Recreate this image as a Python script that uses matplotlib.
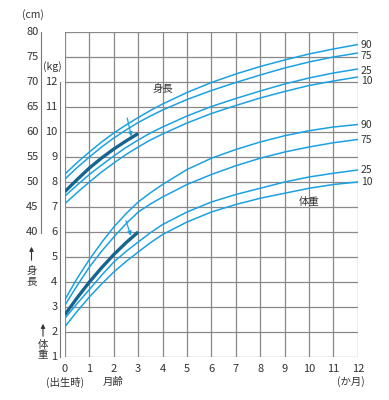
import matplotlib
matplotlib.use("Agg")
import matplotlib.pyplot as plt
import matplotlib.transforms as mtransforms
from matplotlib.patches import FancyArrowPatch

plt.rcParams['font.family'] = ['Noto Sans CJK JP', 'DejaVu Sans']

months = [0, 0.5, 1, 1.5, 2, 2.5, 3, 3.5, 4, 5, 6, 7, 8, 9, 10, 11, 12]
months_early = [0, 0.5, 1, 1.5, 2, 2.5, 3]
month_ticks = list(range(13))

# length (cm)
len_p90 = [51.6, 53.9, 56.0, 58.0, 59.8, 61.4, 62.9, 64.3, 65.6, 67.9, 69.9, 71.6, 73.1, 74.4, 75.6, 76.6, 77.5]
len_p75 = [50.6, 52.9, 55.0, 57.0, 58.8, 60.4, 61.9, 63.2, 64.4, 66.5, 68.3, 69.9, 71.4, 72.8, 74.0, 75.0, 75.8]
len_p50 = [48.1, 50.5, 52.8, 54.8, 56.6, 58.2, 59.7]
len_p25 = [47.2, 49.4, 51.5, 53.4, 55.2, 56.9, 58.4, 59.8, 61.0, 63.2, 65.1, 66.7, 68.2, 69.6, 70.8, 71.8, 72.6]
len_p10 = [45.7, 47.9, 50.0, 52.0, 53.8, 55.5, 57.0, 58.4, 59.6, 61.8, 63.7, 65.3, 66.8, 68.1, 69.3, 70.2, 71.0]

# weight (kg)
wt_p90 = [3.30, 4.15, 4.90, 5.58, 6.20, 6.73, 7.20, 7.57, 7.90, 8.50, 8.95, 9.30, 9.60, 9.85, 10.05, 10.20, 10.30]
wt_p75 = [3.08, 3.86, 4.60, 5.23, 5.80, 6.33, 6.80, 7.12, 7.40, 7.90, 8.30, 8.65, 8.95, 9.20, 9.40, 9.57, 9.70]
wt_p50 = [2.70, 3.37, 4.00, 4.57, 5.10, 5.57, 6.00]
wt_p25 = [2.55, 3.14, 3.70, 4.27, 4.80, 5.22, 5.60, 5.97, 6.30, 6.80, 7.20, 7.50, 7.75, 8.00, 8.20, 8.35, 8.48]
wt_p10 = [2.22, 2.83, 3.40, 3.92, 4.40, 4.82, 5.20, 5.57, 5.90, 6.40, 6.80, 7.10, 7.35, 7.55, 7.75, 7.90, 8.00]

cm_ticks = [40, 45, 50, 55, 60, 65, 70, 75, 80]
kg_ticks = [1, 2, 3, 4, 5, 6, 7, 8, 9, 10, 11, 12]
pct_labels = ["90", "75", "25", "10"]
len_label_y = [77.4, 75.2, 72.2, 70.2]
wt_label_y = [10.28, 9.68, 8.48, 8.0]

light = "#1ba1e2"
dark = "#15668f"
grid_c = "#888888"
txt_c = "#333333"

fig = plt.figure(figsize=(3.89, 4.0), dpi=100)
ax = fig.add_axes([65 / 389, 1 - 357 / 400, 292.8 / 389, 325 / 400])
ax.set_xlim(0, 12)
ax.set_ylim(1, 14)          # kg scale
ax2 = ax.twinx()
ax2.set_ylim(15, 80)        # cm scale, same positions

for a in (ax, ax2):
    for s in a.spines.values():
        s.set_visible(False)
    a.tick_params(left=False, right=False, bottom=False, top=False,
                  labelleft=False, labelright=False, labelbottom=False)

for m in month_ticks:
    ax.axvline(m, color=grid_c, lw=0.9, zorder=1)
for k in range(1, 15):
    ax.axhline(k, color=grid_c, lw=0.9, zorder=1)

for series in (len_p90, len_p75, len_p25, len_p10):
    ax2.plot(months, series, color=light, lw=1.1, zorder=3)
ax2.plot(months_early, len_p50, color=dark, lw=2.4, zorder=4, solid_capstyle='butt')

for series in (wt_p90, wt_p75, wt_p25, wt_p10):
    ax.plot(months, series, color=light, lw=1.1, zorder=3)
ax.plot(months_early, wt_p50, color=dark, lw=2.4, zorder=4, solid_capstyle='butt')

# arrows pointing to the 50th percentile
ax2.annotate("", xy=(2.72, 59.1), xytext=(2.55, 62.8),
             arrowprops=dict(arrowstyle="-|>", color=light, lw=0.9,
                             mutation_scale=6, shrinkA=0, shrinkB=0), zorder=5)
ax.annotate("", xy=(2.7, 5.85), xytext=(2.5, 6.45),
            arrowprops=dict(arrowstyle="-|>", color=light, lw=0.9,
                            mutation_scale=6, shrinkA=0, shrinkB=0), zorder=5)

# percentile labels at right
for lab, yv in zip(pct_labels, len_label_y):
    ax2.text(12.12, yv, lab, fontsize=7.5, color=txt_c,
             va='center', ha='left', clip_on=False)
for lab, yv in zip(pct_labels, wt_label_y):
    ax.text(12.12, yv, lab, fontsize=7.5, color=txt_c,
            va='center', ha='left', clip_on=False)

ax2.text(4.0, 68.6, "身長", fontsize=7.5, color=txt_c, ha='center', va='center')
ax.text(10.0, 7.2, "体重", fontsize=7.5, color=txt_c, ha='center', va='center')

# left scales
tr_cm = mtransforms.blended_transform_factory(ax2.transAxes, ax2.transData)
tr_kg = mtransforms.blended_transform_factory(ax.transAxes, ax.transData)
x_cm_lab = (38.5 - 65) / 292.8
x_cm_line = (41 - 65) / 292.8
x_kg_lab = (57.5 - 65) / 292.8
x_kg_line = (60 - 65) / 292.8

for v in cm_ticks:
    ax2.text(x_cm_lab, v, str(v), transform=tr_cm, fontsize=8, color=txt_c,
             ha='right', va='center', clip_on=False)
ax2.plot([x_cm_line, x_cm_line], [39.8, 80], transform=tr_cm, color="#777777",
         lw=0.8, clip_on=False)
for v in kg_ticks:
    ax.text(x_kg_lab, v, str(v), transform=tr_kg, fontsize=8, color=txt_c,
            ha='right', va='center', clip_on=False)
ax.plot([x_kg_line, x_kg_line], [1, 12], transform=tr_kg, color="#777777",
        lw=0.8, clip_on=False)

fig.text(33 / 389, 1 - 15 / 400, "(cm)", fontsize=7.5, color=txt_c, ha='center', va='center')
fig.text(52 / 389, 1 - 67 / 400, "(kg)", fontsize=7.5, color=txt_c, ha='center', va='center')

# axis captions with arrows
fig.add_artist(FancyArrowPatch(
    (31.5 / 389, 1 - 263 / 400), (31.5 / 389, 1 - 244 / 400),
    transform=fig.transFigure, arrowstyle="-|>", mutation_scale=6,
    color=txt_c, lw=0.8))
fig.text(31.5 / 389, 1 - 271 / 400, "身", fontsize=7.5, color=txt_c, ha='center', va='center')
fig.text(31.5 / 389, 1 - 281 / 400, "長", fontsize=7.5, color=txt_c, ha='center', va='center')
fig.add_artist(FancyArrowPatch(
    (43 / 389, 1 - 339 / 400), (43 / 389, 1 - 321 / 400),
    transform=fig.transFigure, arrowstyle="-|>", mutation_scale=6,
    color=txt_c, lw=0.8))
fig.text(43 / 389, 1 - 345 / 400, "体", fontsize=7.5, color=txt_c, ha='center', va='center')
fig.text(43 / 389, 1 - 355 / 400, "重", fontsize=7.5, color=txt_c, ha='center', va='center')

# bottom labels
for m in month_ticks:
    ax.text(m, 0.54, str(m), fontsize=8, color=txt_c,
            ha='center', va='center', clip_on=False)
fig.text(65 / 389, 1 - 382 / 400, "(出生時)", fontsize=7.5, color=txt_c, ha='center', va='center')
fig.text(113 / 389, 1 - 382 / 400, "月齢", fontsize=7.5, color=txt_c, ha='center', va='center')
fig.text(351 / 389, 1 - 382 / 400, "(か月)", fontsize=7.5, color=txt_c, ha='center', va='center')

fig.savefig("out.png", dpi=100, facecolor="white")
